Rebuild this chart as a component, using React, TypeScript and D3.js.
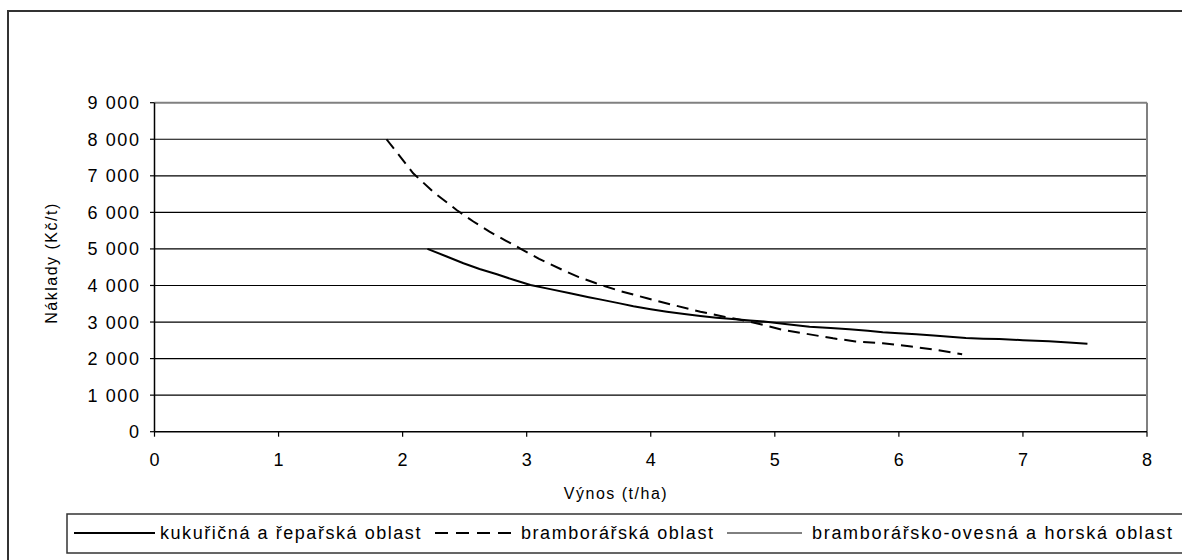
import React from "react";
import * as d3 from "d3";

const xTicks = [0, 1, 2, 3, 4, 5, 6, 7, 8];
const yTicks = [0, 1000, 2000, 3000, 4000, 5000, 6000, 7000, 8000, 9000];

const kukX = [2.2, 2.35, 2.49, 2.62, 2.76, 2.9, 3.03, 3.19, 3.35, 3.5, 3.59, 3.75, 3.86, 4.0, 4.13, 4.27, 4.4, 4.53, 4.66, 4.8, 4.93, 5.1, 5.28, 5.45, 5.6, 5.75, 5.87, 6.0, 6.14, 6.28, 6.41, 6.54, 6.68, 6.81, 7.0, 7.21, 7.37, 7.52];
const kukY = [5000, 4800, 4607, 4450, 4306, 4150, 4014, 3900, 3786, 3680, 3620, 3510, 3430, 3350, 3283, 3220, 3166, 3120, 3083, 3045, 3010, 2940, 2873, 2835, 2801, 2760, 2719, 2690, 2665, 2630, 2599, 2560, 2545, 2536, 2505, 2473, 2440, 2407];

const bramX = [1.87, 2.085, 2.25, 2.435, 2.57, 2.7, 2.83, 2.945, 3.1, 3.29, 3.42, 3.56, 3.75, 3.97, 4.2, 4.4, 4.6, 4.8, 5.07, 5.25, 5.47, 5.65, 5.87, 6.1, 6.3, 6.51];
const bramY = [8000, 7070, 6550, 6066, 5750, 5472, 5230, 5018, 4730, 4424, 4230, 4060, 3850, 3650, 3450, 3283, 3140, 3010, 2782, 2680, 2555, 2470, 2419, 2330, 2240, 2120];

const horX: number[] = [];
const horY: number[] = [];

const seriesNames = [
  "kukuřičná a řepařská oblast",
  "bramborářská oblast",
  "bramborářsko-ovesná a horská oblast",
];

const FONT = "'Liberation Sans', Arial, sans-serif";

export default function App() {
  const x = d3.scaleLinear().domain([0, 8]).range([154.5, 1147]);
  const y = d3.scaleLinear().domain([0, 9000]).range([431.7, 102.7]);
  const loc = d3.formatLocale({ decimal: ",", thousands: " ", grouping: [3], currency: ["", ""] });
  const fmt = loc.format(",d");

  const line = d3
    .line<[number, number]>()
    .x((d) => x(d[0]))
    .y((d) => y(d[1]));

  const kuk = kukX.map((v, i) => [v, kukY[i]] as [number, number]);
  const bram = bramX.map((v, i) => [v, bramY[i]] as [number, number]);
  const hor = horX.map((v, i) => [v, horY[i]] as [number, number]);

  const x0 = x(0), x1 = x(8), y0 = y(0), y1 = y(9000);

  const legendY = 533;
  const ls = 1.6;

  return (
    <svg width={1182} height={560} style={{ position: "absolute", left: 0, top: 0, background: "#fff" }} fontFamily={FONT}>
      <rect x={0} y={0} width={1182} height={560} fill="#fff" />
      {/* outer frame */}
      <rect x={8} y={11} width={1200} height={600} fill="none" stroke="#333" strokeWidth={2} />
      {/* gridlines */}
      {yTicks.filter((t) => t > 0 && t < 9000).map((t) => (
        <line key={"g" + t} x1={x0} x2={x1} y1={y(t)} y2={y(t)} stroke="#000" strokeWidth={1.2} />
      ))}
      {/* plot border top/right */}
      <line x1={x0} x2={x1} y1={y1} y2={y1} stroke="#808080" strokeWidth={2} />
      <line x1={x1} x2={x1} y1={y1} y2={y0} stroke="#808080" strokeWidth={2} />
      {/* axes */}
      <line x1={x0} x2={x0} y1={y1} y2={y0} stroke="#000" strokeWidth={1.5} />
      <line x1={x0} x2={x1} y1={y0} y2={y0} stroke="#000" strokeWidth={1.5} />
      {yTicks.map((t) => (
        <g key={"yt" + t}>
          <line x1={x0 - 4.5} x2={x0} y1={y(t)} y2={y(t)} stroke="#000" strokeWidth={1.2} />
          <text x={x0 - 14} y={y(t)} dy="0.36em" textAnchor="end" fontSize={18} letterSpacing={ls}>
            {fmt(t)}
          </text>
        </g>
      ))}
      {xTicks.map((t) => (
        <g key={"xt" + t}>
          <line x1={x(t)} x2={x(t)} y1={y0} y2={y0 + 5} stroke="#000" strokeWidth={1.2} />
          <text x={x(t) + ls / 2} y={466} textAnchor="middle" fontSize={18} letterSpacing={ls}>
            {t}
          </text>
        </g>
      ))}
      <text x={616} y={499} textAnchor="middle" fontSize={16} letterSpacing={1.5}>
        Výnos (t/ha)
      </text>
      <text transform={`translate(57,263) rotate(-90)`} textAnchor="middle" fontSize={16} letterSpacing={1.5}>
        Náklady (Kč/t)
      </text>
      {/* series */}
      <path d={line(kuk) || ""} fill="none" stroke="#000" strokeWidth={2} />
      <path d={line(bram) || ""} fill="none" stroke="#000" strokeWidth={2} strokeDasharray="12,7" />
      {hor.length > 0 && <path d={line(hor) || ""} fill="none" stroke="#000" strokeWidth={1} />}
      {/* legend */}
      <rect x={67} y={514} width={1200} height={39} fill="#fff" stroke="#333" strokeWidth={1.5} />
      <line x1={74} x2={155} y1={legendY} y2={legendY} stroke="#000" strokeWidth={2} />
      <text x={160} y={legendY} dy="0.36em" fontSize={18} letterSpacing={1.55}>{seriesNames[0]}</text>
      <line x1={435} x2={517} y1={legendY} y2={legendY} stroke="#000" strokeWidth={2} strokeDasharray="13,8" />
      <text x={521} y={legendY} dy="0.36em" fontSize={18} letterSpacing={1.55}>{seriesNames[1]}</text>
      <line x1={727} x2={802} y1={legendY} y2={legendY} stroke="#000" strokeWidth={1} />
      <text x={812} y={legendY} dy="0.36em" fontSize={18} letterSpacing={1.7}>{seriesNames[2]}</text>
    </svg>
  );
}
